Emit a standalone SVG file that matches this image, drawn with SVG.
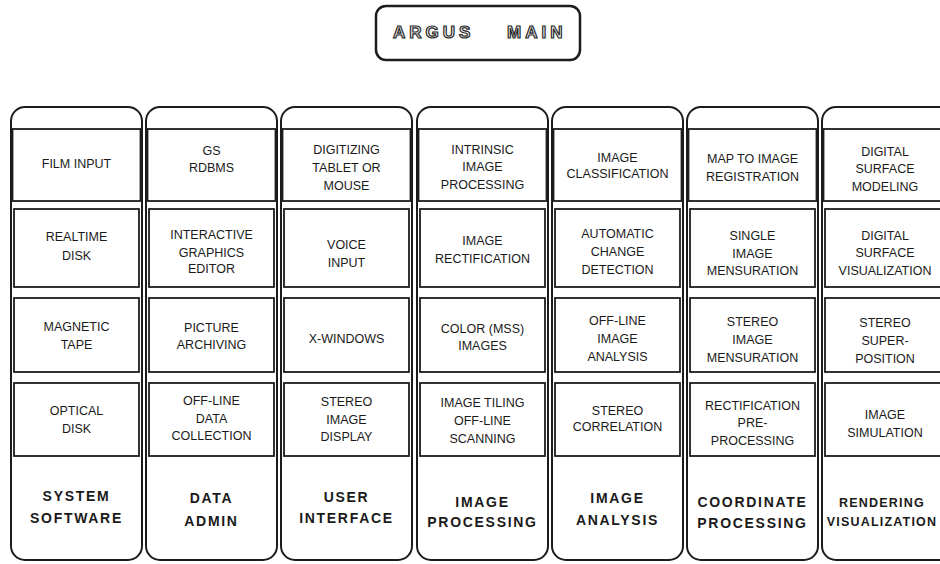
<svg xmlns="http://www.w3.org/2000/svg" width="940" height="564" viewBox="0 0 940 564">
<style>
.col{fill:#fff;stroke:#1c1c1c;stroke-width:2}
.cell{fill:#fff;stroke:#1c1c1c;stroke-width:1.8}
.t{font-family:"Liberation Sans",Arial,sans-serif;font-size:12.5px;text-anchor:middle;fill:#1a1a1a}
.lbl{font-family:"Liberation Sans",Arial,sans-serif;font-weight:bold;font-size:14px;letter-spacing:1.7px;text-anchor:middle;fill:#1a1a1a}
.ttl{font-family:"Liberation Sans",Arial,sans-serif;font-weight:bold;font-size:17px;letter-spacing:4px;fill:#f2f2f2;stroke:#2a2a2a;stroke-width:1.2}
</style>
<rect width="940" height="564" fill="#fff"/>
<g id="argus-main">
<rect x="376" y="6" width="204" height="54" rx="10" fill="#fff" stroke="#1c1c1c" stroke-width="2.5"/>
<text class="ttl" y="38"><tspan x="393">ARGUS</tspan><tspan x="507">MAIN</tspan></text>
</g>
<g id="connectors"/>

<g id="col-system-software">
<rect class="col" x="11" y="107" width="131" height="453" rx="14"/>
<g id="film-input"><rect class="cell" x="12.5" y="129" width="128" height="72"/><text class="t" x="76.5" y="167.5">FILM INPUT</text></g>
<g id="realtime-disk"><rect class="cell" x="14" y="209" width="125" height="78"/><text class="t" x="76.5" y="241">REALTIME</text><text class="t" x="76.5" y="259.5">DISK</text></g>
<g id="magnetic-tape"><rect class="cell" x="14" y="298" width="125" height="74"/><text class="t" x="76.5" y="330.5">MAGNETIC</text><text class="t" x="76.5" y="348.5">TAPE</text></g>
<g id="optical-disk"><rect class="cell" x="14" y="383" width="125" height="73"/><text class="t" x="76.5" y="415">OPTICAL</text><text class="t" x="76.5" y="432.5">DISK</text></g>
<g id="system-software"><text class="lbl" x="76.5" y="501">SYSTEM</text><text class="lbl" x="76.5" y="523">SOFTWARE</text></g>
</g>

<g id="col-data-admin">
<rect class="col" x="146" y="107" width="131" height="453" rx="14"/>
<g id="gs-rdbms"><rect class="cell" x="147.5" y="129" width="128" height="72"/><text class="t" x="211.5" y="154.5">GS</text><text class="t" x="211.5" y="171.5">RDBMS</text></g>
<g id="interactive-graphics-editor"><rect class="cell" x="149" y="209" width="125" height="78"/><text class="t" x="211.5" y="238.5">INTERACTIVE</text><text class="t" x="211.5" y="256.5">GRAPHICS</text><text class="t" x="211.5" y="273">EDITOR</text></g>
<g id="picture-archiving"><rect class="cell" x="149" y="298" width="125" height="74"/><text class="t" x="211.5" y="331.5">PICTURE</text><text class="t" x="211.5" y="348.5">ARCHIVING</text></g>
<g id="off-line-data-collection"><rect class="cell" x="149" y="383" width="125" height="73"/><text class="t" x="211.5" y="404.5">OFF-LINE</text><text class="t" x="211.5" y="422.5">DATA</text><text class="t" x="211.5" y="440">COLLECTION</text></g>
<g id="data-admin"><text class="lbl" x="211.5" y="503">DATA</text><text class="lbl" x="211.5" y="526">ADMIN</text></g>
</g>

<g id="col-user-interface">
<rect class="col" x="281" y="107" width="131" height="453" rx="14"/>
<g id="digitizing-tablet"><rect class="cell" x="282.5" y="129" width="128" height="72"/><text class="t" x="346.5" y="153.5">DIGITIZING</text><text class="t" x="346.5" y="171.5">TABLET OR</text><text class="t" x="346.5" y="189.5">MOUSE</text></g>
<g id="voice-input"><rect class="cell" x="284" y="209" width="125" height="78"/><text class="t" x="346.5" y="248.5">VOICE</text><text class="t" x="346.5" y="266.5">INPUT</text></g>
<g id="x-windows"><rect class="cell" x="284" y="298" width="125" height="74"/><text class="t" x="346.5" y="342.5">X-WINDOWS</text></g>
<g id="stereo-image-display"><rect class="cell" x="284" y="383" width="125" height="73"/><text class="t" x="346.5" y="406">STEREO</text><text class="t" x="346.5" y="423.5">IMAGE</text><text class="t" x="346.5" y="440.5">DISPLAY</text></g>
<g id="user-interface"><text class="lbl" x="346.5" y="502">USER</text><text class="lbl" x="346.5" y="523">INTERFACE</text></g>
</g>

<g id="col-image-processing">
<rect class="col" x="417" y="107" width="131" height="453" rx="14"/>
<g id="intrinsic-image-processing"><rect class="cell" x="418.5" y="129" width="128" height="72"/><text class="t" x="482.5" y="153.5">INTRINSIC</text><text class="t" x="482.5" y="171">IMAGE</text><text class="t" x="482.5" y="188.5">PROCESSING</text></g>
<g id="image-rectification"><rect class="cell" x="420" y="209" width="125" height="78"/><text class="t" x="482.5" y="244.5">IMAGE</text><text class="t" x="482.5" y="262.5">RECTIFICATION</text></g>
<g id="color-mss-images"><rect class="cell" x="420" y="298" width="125" height="74"/><text class="t" x="482.5" y="332.5">COLOR (MSS)</text><text class="t" x="482.5" y="349.5">IMAGES</text></g>
<g id="image-tiling"><rect class="cell" x="420" y="383" width="125" height="73"/><text class="t" x="482.5" y="407">IMAGE TILING</text><text class="t" x="482.5" y="425">OFF-LINE</text><text class="t" x="482.5" y="442.5">SCANNING</text></g>
<g id="image-processing"><text class="lbl" x="482.5" y="507">IMAGE</text><text class="lbl" x="482.5" y="527">PROCESSING</text></g>
</g>

<g id="col-image-analysis">
<rect class="col" x="552" y="107" width="131" height="453" rx="14"/>
<g id="image-classification"><rect class="cell" x="553.5" y="129" width="128" height="72"/><text class="t" x="617.5" y="161.5">IMAGE</text><text class="t" x="617.5" y="178">CLASSIFICATION</text></g>
<g id="automatic-change-detection"><rect class="cell" x="555" y="209" width="125" height="78"/><text class="t" x="617.5" y="238">AUTOMATIC</text><text class="t" x="617.5" y="256">CHANGE</text><text class="t" x="617.5" y="274">DETECTION</text></g>
<g id="off-line-image-analysis"><rect class="cell" x="555" y="298" width="125" height="74"/><text class="t" x="617.5" y="324.5">OFF-LINE</text><text class="t" x="617.5" y="342.5">IMAGE</text><text class="t" x="617.5" y="360.5">ANALYSIS</text></g>
<g id="stereo-correlation"><rect class="cell" x="555" y="383" width="125" height="73"/><text class="t" x="617.5" y="414.5">STEREO</text><text class="t" x="617.5" y="431">CORRELATION</text></g>
<g id="image-analysis"><text class="lbl" x="617.5" y="503">IMAGE</text><text class="lbl" x="617.5" y="525">ANALYSIS</text></g>
</g>

<g id="col-coordinate-processing">
<rect class="col" x="687" y="107" width="131" height="453" rx="14"/>
<g id="map-to-image-registration"><rect class="cell" x="688.5" y="129" width="128" height="72"/><text class="t" x="752.5" y="162.5">MAP TO IMAGE</text><text class="t" x="752.5" y="180.5">REGISTRATION</text></g>
<g id="single-image-mensuration"><rect class="cell" x="690" y="209" width="125" height="78"/><text class="t" x="752.5" y="240">SINGLE</text><text class="t" x="752.5" y="258">IMAGE</text><text class="t" x="752.5" y="275">MENSURATION</text></g>
<g id="stereo-image-mensuration"><rect class="cell" x="690" y="298" width="125" height="74"/><text class="t" x="752.5" y="326">STEREO</text><text class="t" x="752.5" y="343.5">IMAGE</text><text class="t" x="752.5" y="361.5">MENSURATION</text></g>
<g id="rectification-pre-processing"><rect class="cell" x="690" y="383" width="125" height="73"/><text class="t" x="752.5" y="409.5">RECTIFICATION</text><text class="t" x="752.5" y="427">PRE-</text><text class="t" x="752.5" y="444.5">PROCESSING</text></g>
<g id="coordinate-processing"><text class="lbl" x="752.5" y="507">COORDINATE</text><text class="lbl" x="752.5" y="528">PROCESSING</text></g>
</g>

<g id="col-rendering-visualization">
<rect class="col" x="822" y="107" width="131" height="453" rx="14"/>
<g id="digital-surface-modeling"><rect class="cell" x="823.5" y="129" width="128" height="72"/><text class="t" x="885" y="155.5">DIGITAL</text><text class="t" x="885" y="173">SURFACE</text><text class="t" x="885" y="191">MODELING</text></g>
<g id="digital-surface-visualization"><rect class="cell" x="825" y="209" width="125" height="78"/><text class="t" x="885" y="239.5">DIGITAL</text><text class="t" x="885" y="257">SURFACE</text><text class="t" x="885" y="275">VISUALIZATION</text></g>
<g id="stereo-superposition"><rect class="cell" x="825" y="298" width="125" height="74"/><text class="t" x="885" y="326.5">STEREO</text><text class="t" x="885" y="344.5">SUPER-</text><text class="t" x="885" y="362.5">POSITION</text></g>
<g id="image-simulation"><rect class="cell" x="825" y="383" width="125" height="73"/><text class="t" x="885" y="418.5">IMAGE</text><text class="t" x="885" y="437">SIMULATION</text></g>
<g id="rendering-visualization"><text class="lbl" x="882" y="507" style="font-size:12.5px;letter-spacing:1.2px">RENDERING</text><text class="lbl" x="882" y="526" style="font-size:12.5px;letter-spacing:1.2px">VISUALIZATION</text></g>
</g>
</svg>
